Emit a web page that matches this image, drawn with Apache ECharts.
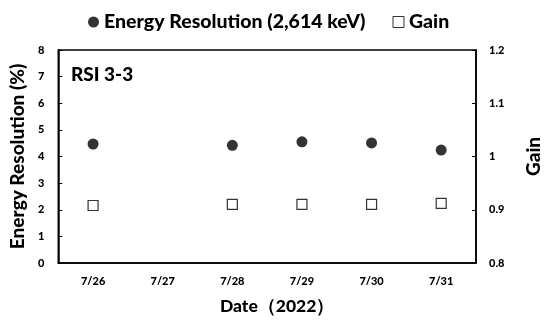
<!DOCTYPE html>
<html><head><meta charset="utf-8">
<script src="https://cdn.jsdelivr.net/npm/echarts@6/dist/echarts.min.js"></script>
<style>html,body{margin:0;padding:0;background:#fff}#c{width:551px;height:321px}</style>
</head><body><div id="c"></div>
<script>
const categories = ['7/26','7/27','7/28','7/29','7/30','7/31'];
const energyResolution = [4.47, null, 4.42, 4.55, 4.51, 4.24];
const gain = [0.908, null, 0.910, 0.910, 0.910, 0.912];
const leftTicks = [0,1,2,3,4,5,6,7,8];
const rightTicks = [0.8,0.9,1.0,1.1,1.2];

const FONT = 'Lato';
const W = 900;
const chart = echarts.init(document.getElementById('c'), null, {renderer:'canvas'});
chart.setOption({
  animation:false,
  backgroundColor:'#fff',
  textStyle:{fontFamily:FONT},
  legend:{
    top:7, left:83, itemGap:27, itemWidth:11, itemHeight:11,
    textStyle:{fontFamily:FONT, fontWeight:W, fontSize:19.5, color:'#000'},
    data:[
      {name:'Energy Resolution (2,614 keV)', icon:'circle'},
      {name:'Gain', icon:'rect', itemStyle:{color:'#fff', borderColor:'#000', borderWidth:1}}
    ]
  },
  grid:{left:57, right:60, top:50, bottom:58, show:true, borderColor:'#000', borderWidth:1.5},
  graphic:[{type:'text', left:71, top:65, style:{text:'RSI 3-3', font:W+' 19px '+FONT, fill:'#000'}}],
  xAxis:{
    type:'category', data:categories, boundaryGap:true,
    axisLine:{lineStyle:{color:'#000', width:1.5}},
    axisTick:{inside:true, length:5, lineStyle:{color:'#000'}},
    axisLabel:{color:'#000', fontWeight:W, fontSize:11, margin:13, fontFamily:FONT},
    name:'Date（2022）', nameLocation:'middle', nameGap:34,
    nameTextStyle:{color:'#000', fontWeight:W, fontSize:17.5, fontFamily:FONT, padding:[0,0,0,20]}
  },
  yAxis:[
    {type:'value', min:leftTicks[0], max:leftTicks[leftTicks.length-1], interval:1,
     axisLine:{show:true, lineStyle:{color:'#000', width:1.5}},
     axisTick:{show:true, inside:true, length:4, lineStyle:{color:'#000'}},
     splitLine:{show:false},
     axisLabel:{color:'#000', fontWeight:W, fontSize:11, margin:14, fontFamily:FONT},
     name:'Energy Resolution (%)', nameLocation:'middle', nameGap:31, nameRotate:90,
     nameTextStyle:{color:'#000', fontWeight:W, fontSize:19, fontFamily:FONT}},
    {type:'value', min:rightTicks[0], max:rightTicks[rightTicks.length-1], interval:0.1, position:'right',
     axisLine:{show:true, lineStyle:{color:'#000', width:1.5}},
     axisTick:{show:true, inside:true, length:4, lineStyle:{color:'#000'}},
     splitLine:{show:false},
     axisLabel:{color:'#000', fontWeight:W, fontSize:11, margin:13, fontFamily:FONT,
       formatter:v=>String(parseFloat(v.toFixed(1)))},
     name:'Gain', nameLocation:'middle', nameGap:48, nameRotate:90,
     nameTextStyle:{color:'#000', fontWeight:W, fontSize:19, fontFamily:FONT}}
  ],
  series:[
    {name:'Energy Resolution (2,614 keV)', type:'scatter', yAxisIndex:0, data:energyResolution,
     symbol:'circle', symbolSize:11, itemStyle:{color:'#000'}},
    {name:'Gain', type:'scatter', yAxisIndex:1, data:gain,
     symbol:'rect', symbolSize:10, itemStyle:{color:'#fff', borderColor:'#000', borderWidth:1.2}}
  ]
});
</script></body></html>
